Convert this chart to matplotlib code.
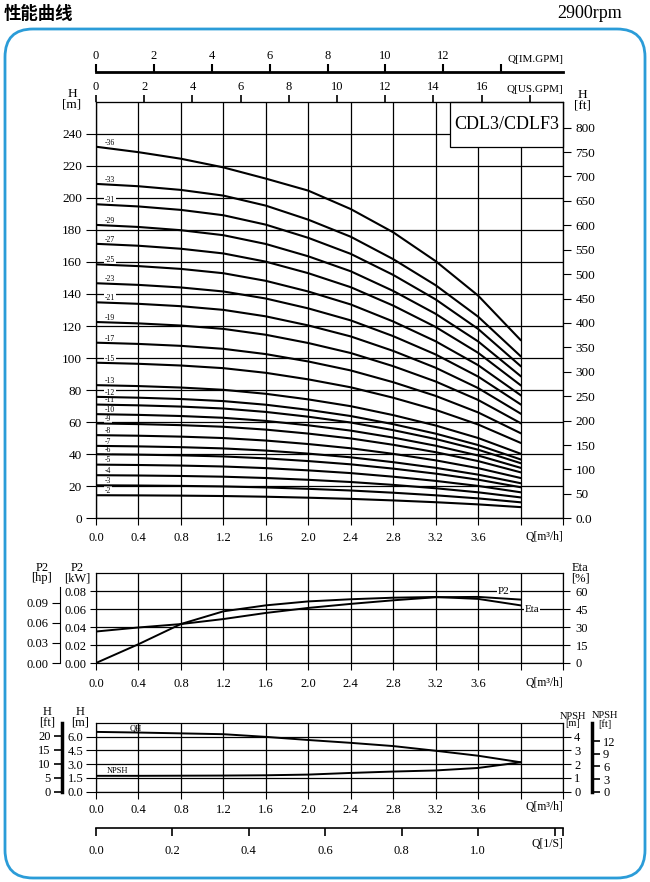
import numpy as np
import matplotlib
matplotlib.use("Agg")
import matplotlib.pyplot as plt
from matplotlib.patches import FancyBboxPatch, Rectangle

plt.rcParams['font.family'] = ['Liberation Serif', 'DejaVu Serif']
plt.rcParams['axes.linewidth'] = 0.8

W, H = 650, 882

# flow points (m3/h)
q = [0.0, 0.4, 0.8, 1.2, 1.6, 2.0, 2.4, 2.8, 3.2, 3.6, 4.0]

# models (number of stages) and their shut-off head in m, read at Q=0
stages = [2, 3, 4, 5, 6, 7, 8, 9, 10, 11, 12, 13, 15, 17, 19, 21, 23, 25, 27, 29, 31, 33]
shutoff = [14.4, 20.6, 26.9, 33.5, 40.0, 45.2, 51.9, 59.2, 65.0, 71.0, 75.8, 83.1,
           97.1, 109.6, 122.5, 134.8, 146.7, 158.5, 171.3, 183.1, 196.0, 208.7]
# head / shut-off head along the curves
head_ratio = [1.0, 0.993, 0.982, 0.965, 0.935, 0.893, 0.842, 0.775, 0.697, 0.603, 0.485]
# the 36 stage curve, read on its own
h_36 = [231.9, 228.5, 224.4, 219.0, 212.0, 204.5, 193.0, 178.5, 160.5, 139.0, 111.3]

# power and efficiency
p2_kw = [0.0351, 0.0396, 0.0434, 0.0490, 0.0558, 0.0614, 0.0659, 0.0699, 0.0733, 0.0737, 0.0707]
eta = [0.0, 15.7, 32.6, 43.2, 48.2, 51.5, 53.3, 54.6, 55.2, 53.6, 48.2]

# single stage head and NPSH
qh = [6.50, 6.43, 6.34, 6.25, 5.96, 5.62, 5.31, 4.96, 4.45, 3.91, 3.20]
npsh = [1.15, 1.15, 1.16, 1.17, 1.19, 1.24, 1.36, 1.46, 1.54, 1.72, 2.13]

M_TO_FT = 3.2808
KW_TO_HP = 1 / 0.7457
M3H_TO_USGPM = 4.4029
M3H_TO_IMGPM = 3.6662
M3H_TO_LS = 1 / 3.6

fig = plt.figure(figsize=(6.5, 8.82), dpi=100)


def box(l, t, r, b):
    return [l / W, 1 - b / H, (r - l) / W, (b - t) / H]


def ftext(x, y, s, **kw):
    fig.text(x / W, 1 - y / H, s, **kw)


# rounded blue frame
bg = fig.add_axes([0, 0, 1, 1])
bg.set_xlim(0, W)
bg.set_ylim(H, 0)
bg.axis('off')
bg.add_patch(FancyBboxPatch((5, 29), 640, 849, boxstyle='round,pad=0,rounding_size=28',
                            fc='none', ec='#2b9cd8', lw=2))

ftext(4, 14, '性能曲线', family=['Noto Sans CJK SC', 'DejaVu Sans'], weight='bold',
      fontsize=12.5, ha='left', va='center')
ftext(622, 14, '2900rpm', fontsize=13, ha='right', va='center')

qticks = np.round(np.arange(0, 4.41, 0.4), 1)
qlabels = [f'{v:.1f}' for v in qticks[:-2]] + ['', '']


def style_q_axis(a, pad):
    a.set_xlim(0, 4.4)
    a.set_xticks(qticks)
    a.set_xticklabels(qlabels)
    a.tick_params(axis='x', direction='out', length=5, width=0.8, pad=pad, labelsize=9)
    a.grid(True, color='black', lw=0.9)


# ---------------- main H-Q chart ----------------
ax = fig.add_axes(box(96, 101.7, 563, 518.3))
style_q_axis(ax, 5)
ax.set_ylim(0, 260)
ax.set_yticks(range(0, 241, 20))
ax.tick_params(axis='y', direction='out', length=7, width=0.8, pad=3, labelsize=9.5)

for n, h0 in zip(stages, shutoff):
    ax.plot(q, [h0 * r for r in head_ratio], color='black', lw=1.5, zorder=3)
    ax.text(0.085, h0 + 2.6, f'-{n}', fontsize=5.5, ha='left', va='center', zorder=2,
            bbox=dict(fc='white', ec='none', pad=0.6))
ax.plot(q, h_36, color='black', lw=1.5, zorder=3)
ax.text(0.085, h_36[0] + 2.6, '-36', fontsize=5.5, ha='left', va='center', zorder=2,
        bbox=dict(fc='white', ec='none', pad=0.6))

ax.add_patch(Rectangle((0.758, 0.892), 0.242, 0.108, transform=ax.transAxes,
                       fc='white', ec='black', lw=0.9, zorder=5, clip_on=False))
ax.text(0.879, 0.946, 'CDL3/CDLF3', transform=ax.transAxes, ha='center', va='center',
        fontsize=13, zorder=6)

axr = ax.twinx()
axr.set_ylim(0, 260 * M_TO_FT)
ft_ticks = list(range(0, 801, 50))
axr.set_yticks(ft_ticks)
axr.set_yticklabels(['0.0'] + [str(v) for v in ft_ticks[1:]])
axr.tick_params(axis='y', direction='out', length=6, width=0.8, pad=3, labelsize=9.5)

axt = ax.twiny()
axt.set_xlim(0, 4.4 * M3H_TO_USGPM)
axt.set_xticks(range(0, 19, 2))
axt.set_xticklabels([str(v) for v in range(0, 17, 2)] + [''])
axt.tick_params(axis='x', direction='out', length=5, width=1.2, pad=1, labelsize=9)

aim = fig.add_axes(box(96, 71.7, 563, 72.2))
aim.patch.set_visible(False)
for s in ['left', 'right', 'bottom']:
    aim.spines[s].set_visible(False)
aim.spines['top'].set_linewidth(2)
aim.set_yticks([])
aim.set_xlim(0, 4.4 * M3H_TO_IMGPM)
aim.xaxis.tick_top()
aim.set_xticks(range(0, 15, 2))
aim.set_xticklabels([str(v) for v in range(0, 13, 2)] + [''])
aim.tick_params(axis='x', direction='out', length=6, width=1.5, pad=1, labelsize=9)

ftext(72, 99, 'H\n[m]', ha='center', va='center', fontsize=9.5, linespacing=0.85)
ftext(582, 100, 'H\n[ft]', ha='center', va='center', fontsize=9.5, linespacing=0.85)
ftext(563, 537, 'Q[m³/h]', ha='right', va='center', fontsize=8.5)
ftext(563, 89, 'Q[US.GPM]', ha='right', va='center', fontsize=8)
ftext(563, 60, 'Q[IM.GPM]', ha='right', va='center', fontsize=8)

# ---------------- P2 / Eta chart ----------------
ap = fig.add_axes(box(96, 573.3, 563, 663))
style_q_axis(ap, 6)
ap.set_ylim(0, 0.1)
ap.set_yticks([0, 0.02, 0.04, 0.06, 0.08])
ap.set_yticklabels(['0.00', '0.02', '0.04', '0.06', '0.08'])
ap.tick_params(axis='y', direction='out', length=4, width=0.8, pad=3, labelsize=9)
ap.plot(q, p2_kw, color='black', lw=1.4, zorder=3)

ae = ap.twinx()
ae.set_ylim(0, 75)
ae.set_yticks(range(0, 61, 15))
ae.tick_params(axis='y', direction='out', length=5, width=0.8, pad=4, labelsize=9)
ae.plot(q, eta, color='black', lw=1.4, zorder=3)
ae.text(3.84, 60, 'P2', fontsize=8, ha='center', va='center', zorder=4,
        bbox=dict(fc='white', ec='none', pad=0.5))
ae.text(4.11, 45, 'Eta', fontsize=8, ha='center', va='center', zorder=4,
        bbox=dict(fc='white', ec='none', pad=0.5))

ahp = fig.add_axes(box(60, 573.3, 61, 663))
ahp.patch.set_visible(False)
for s in ['top', 'right', 'bottom']:
    ahp.spines[s].set_visible(False)
ahp.set_xticks([])
ahp.set_ylim(0, 0.1 * KW_TO_HP)
ahp.spines['left'].set_bounds(0, 0.114)
ahp.set_yticks([0, 0.03, 0.06, 0.09])
ahp.set_yticklabels(['0.00', '0.03', '0.06', '0.09'])
ahp.tick_params(axis='y', direction='out', length=6, width=0.8, pad=2, labelsize=9)

ftext(42, 573, 'P2\n[hp]', ha='center', va='center', fontsize=9, linespacing=0.85)
ftext(77, 573, 'P2\n[kW]', ha='center', va='center', fontsize=9, linespacing=0.85)
ftext(580, 573, 'Eta\n[%]', ha='center', va='center', fontsize=9, linespacing=0.85)
ftext(563, 683, 'Q[m³/h]', ha='right', va='center', fontsize=8.5)

# ---------------- QH / NPSH chart ----------------
aq = fig.add_axes(box(96, 722.7, 563, 791.7))
style_q_axis(aq, 4)
aq.set_ylim(0, 7.5)
aq.set_yticks([0, 1.5, 3.0, 4.5, 6.0])
aq.set_yticklabels(['0.0', '1.5', '3.0', '4.5', '6.0'])
aq.tick_params(axis='y', direction='out', length=7, width=0.8, pad=2, labelsize=9)
aq.plot(q, qh, color='black', lw=1.4, zorder=3)
aq.text(0.37, 6.85, 'QH', fontsize=6, ha='center', va='center')
aq.text(0.2, 2.25, 'NPSH', fontsize=6, ha='center', va='center')

an = aq.twinx()
an.set_ylim(0, 5)
an.set_yticks(range(0, 5))
an.tick_params(axis='y', direction='out', length=6, width=0.8, pad=2, labelsize=9)
an.plot(q, npsh, color='black', lw=1.4, zorder=3)

aft = fig.add_axes(box(61.7, 722.7, 62.7, 791.7))
aft.patch.set_visible(False)
for s in ['top', 'right', 'bottom']:
    aft.spines[s].set_visible(False)
aft.spines['left'].set_linewidth(2.5)
aft.set_xticks([])
aft.set_ylim(0, 7.5 * M_TO_FT)
aft.set_yticks(range(0, 21, 5))
aft.tick_params(axis='y', direction='out', length=6, width=1.2, pad=2, labelsize=9)

anf = fig.add_axes(box(591, 722.7, 592, 791.7))
anf.patch.set_visible(False)
for s in ['top', 'left', 'bottom']:
    anf.spines[s].set_visible(False)
anf.spines['right'].set_linewidth(2.5)
anf.set_xticks([])
anf.set_ylim(0, 5 * M_TO_FT)
anf.yaxis.tick_right()
anf.set_yticks(range(0, 13, 3))
anf.tick_params(axis='y', direction='out', length=6, width=1.2, pad=2, labelsize=9)

ftext(47, 717, 'H\n[ft]', ha='center', va='center', fontsize=9, linespacing=0.85)
ftext(80, 717, 'H\n[m]', ha='center', va='center', fontsize=9, linespacing=0.85)
ftext(573, 720, 'NPSH\n[m]', ha='center', va='center', fontsize=7.5, linespacing=0.85)
ftext(605, 720, 'NPSH\n[ft]', ha='center', va='center', fontsize=7.5, linespacing=0.85)
ftext(563, 807, 'Q[m³/h]', ha='right', va='center', fontsize=8.5)

# ---------------- Q [l/s] axis ----------------
als = fig.add_axes(box(96, 827.5, 563, 828))
als.patch.set_visible(False)
for s in ['top', 'left', 'right']:
    als.spines[s].set_visible(False)
als.spines['bottom'].set_linewidth(1.2)
als.set_yticks([])
als.set_xlim(0, 4.4 * M3H_TO_LS)
ls_ticks = [0, 0.2, 0.4, 0.6, 0.8, 1.0, 1.2, 4.4 * M3H_TO_LS]
als.set_xticks(ls_ticks)
als.set_xticklabels(['0.0', '0.2', '0.4', '0.6', '0.8', '1.0', '', ''])
als.tick_params(axis='x', direction='out', length=6, width=1.2, pad=6, labelsize=9)
ftext(563, 844, 'Q[1/S]', ha='right', va='center', fontsize=8.5)

fig.savefig('out.png', dpi=100)
